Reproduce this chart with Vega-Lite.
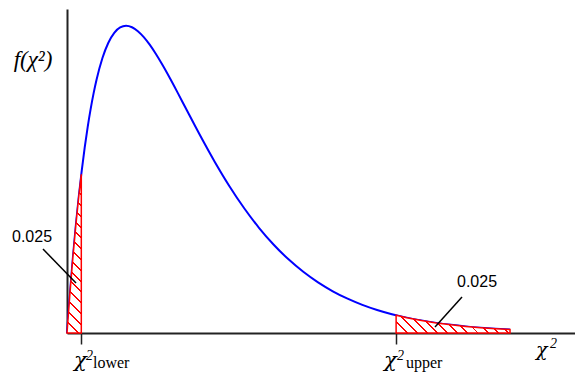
{
  "$schema": "https://vega.github.io/schema/vega-lite/v6.json",
  "width": 508,
  "height": 324,
  "autosize": "none",
  "padding": {"left": 67, "top": 9, "right": 0, "bottom": 50},
  "background": "white",
  "config": {"view": {"stroke": null}},
  "datasets": {
    "curve": [
      {"x": 0, "y": 0},
      {"x": 0.1, "y": 0.023781},
      {"x": 0.2, "y": 0.045242},
      {"x": 0.3, "y": 0.064553},
      {"x": 0.4, "y": 0.081873},
      {"x": 0.4844, "y": 0.095051},
      {"x": 0.5, "y": 0.09735},
      {"x": 0.6, "y": 0.111123},
      {"x": 0.7, "y": 0.12332},
      {"x": 0.8, "y": 0.134064},
      {"x": 0.9, "y": 0.143466},
      {"x": 1.0, "y": 0.151633},
      {"x": 1.2, "y": 0.164644},
      {"x": 1.4, "y": 0.173805},
      {"x": 1.6, "y": 0.179732},
      {"x": 1.8, "y": 0.182956},
      {"x": 2.0, "y": 0.18394},
      {"x": 2.2, "y": 0.183079},
      {"x": 2.4, "y": 0.180717},
      {"x": 2.6, "y": 0.177146},
      {"x": 2.8, "y": 0.172618},
      {"x": 3.0, "y": 0.167348},
      {"x": 3.25, "y": 0.159991},
      {"x": 3.5, "y": 0.152052},
      {"x": 3.75, "y": 0.14377},
      {"x": 4.0, "y": 0.135335},
      {"x": 4.5, "y": 0.118574},
      {"x": 5.0, "y": 0.102606},
      {"x": 5.5, "y": 0.087901},
      {"x": 6.0, "y": 0.074681},
      {"x": 6.5, "y": 0.063008},
      {"x": 7.0, "y": 0.052845},
      {"x": 7.5, "y": 0.044096},
      {"x": 8.0, "y": 0.036631},
      {"x": 8.5, "y": 0.030312},
      {"x": 9.0, "y": 0.024995},
      {"x": 9.5, "y": 0.020548},
      {"x": 10.0, "y": 0.016845},
      {"x": 10.5, "y": 0.013775},
      {"x": 11.0, "y": 0.011239},
      {"x": 11.1433, "y": 0.010598},
      {"x": 11.5, "y": 0.009151},
      {"x": 12.0, "y": 0.0074363},
      {"x": 12.5, "y": 0.0060329},
      {"x": 13.0, "y": 0.0048862},
      {"x": 13.5, "y": 0.0039517},
      {"x": 14.0, "y": 0.0031916},
      {"x": 14.5, "y": 0.0025744},
      {"x": 15.0, "y": 0.0020741}
    ],
    "leaders": [
      {"x": -0.813, "y": 0.0503, "x2": 0.305, "y2": 0.0299},
      {"x": 13.374, "y": 0.02156, "x2": 12.46, "y2": 0.00359}
    ],
    "numbers": [
      {"x": -1.185, "y": 0.05449, "t": "0.025"},
      {"x": 13.882, "y": 0.02754, "t": "0.025"}
    ],
    "flabel": [
      {"x": -1.151, "y": 0.1593, "t": "f(χ²)"}
    ],
    "chiTick": [
      {"x": 0.237, "y": -0.02036, "t": "χ"},
      {"x": 10.733, "y": -0.02036, "t": "χ"}
    ],
    "chiAxis": [
      {"x": 15.879, "y": -0.01377, "t": "χ"}
    ],
    "sups": [
      {"x": 0.643, "y": -0.01617, "t": "2"},
      {"x": 11.173, "y": -0.01617, "t": "2"},
      {"x": 16.35, "y": -0.00898, "t": "2"}
    ],
    "subs": [
      {"x": 0.88, "y": -0.02096, "t": "lower"},
      {"x": 11.478, "y": -0.02096, "t": "upper"}
    ]
  },
  "encoding": {
    "x": {
      "field": "x", "type": "quantitative",
      "scale": {"domain": [0, 17.2], "nice": false, "zero": false},
      "axis": {"values": [0.4844, 11.1433], "labels": false, "ticks": true, "tickSize": 11, "tickColor": "#222222", "tickWidth": 1.5, "domainColor": "#222222", "domainWidth": 2, "grid": false, "title": null}
    },
    "y": {
      "field": "y", "type": "quantitative",
      "scale": {"domain": [0, 0.194], "nice": false, "zero": false},
      "axis": {"ticks": false, "labels": false, "grid": false, "title": null, "domainColor": "#222222", "domainWidth": 2}
    }
  },
  "layer": [
    {
      "data": {"name": "curve"},
      "mark": {"type": "line", "color": "#0000ff", "strokeWidth": 2, "interpolate": "monotone"}
    },
    {
      "data": {"name": "curve"},
      "transform": [{"filter": "datum.x <= 0.4845"}],
      "mark": {
        "type": "area", "stroke": "#ff0000", "strokeWidth": 1.5,
        "fill": {
          "gradient": "linear", "x1": 0, "y1": 1, "x2": 0.0974, "y2": -0.081,
          "stops": [
            {"offset": 0, "color": "#ff0000"}, {"offset": 0.01125, "color": "#ff0000"}, {"offset": 0.01125, "color": "#ffffff"}, {"offset": 0.0625, "color": "#ffffff"},
            {"offset": 0.0625, "color": "#ff0000"}, {"offset": 0.07375, "color": "#ff0000"}, {"offset": 0.07375, "color": "#ffffff"}, {"offset": 0.125, "color": "#ffffff"},
            {"offset": 0.125, "color": "#ff0000"}, {"offset": 0.13625, "color": "#ff0000"}, {"offset": 0.13625, "color": "#ffffff"}, {"offset": 0.1875, "color": "#ffffff"},
            {"offset": 0.1875, "color": "#ff0000"}, {"offset": 0.19875, "color": "#ff0000"}, {"offset": 0.19875, "color": "#ffffff"}, {"offset": 0.25, "color": "#ffffff"},
            {"offset": 0.25, "color": "#ff0000"}, {"offset": 0.26125, "color": "#ff0000"}, {"offset": 0.26125, "color": "#ffffff"}, {"offset": 0.3125, "color": "#ffffff"},
            {"offset": 0.3125, "color": "#ff0000"}, {"offset": 0.32375, "color": "#ff0000"}, {"offset": 0.32375, "color": "#ffffff"}, {"offset": 0.375, "color": "#ffffff"},
            {"offset": 0.375, "color": "#ff0000"}, {"offset": 0.38625, "color": "#ff0000"}, {"offset": 0.38625, "color": "#ffffff"}, {"offset": 0.4375, "color": "#ffffff"},
            {"offset": 0.4375, "color": "#ff0000"}, {"offset": 0.44875, "color": "#ff0000"}, {"offset": 0.44875, "color": "#ffffff"}, {"offset": 0.5, "color": "#ffffff"},
            {"offset": 0.5, "color": "#ff0000"}, {"offset": 0.51125, "color": "#ff0000"}, {"offset": 0.51125, "color": "#ffffff"}, {"offset": 0.5625, "color": "#ffffff"},
            {"offset": 0.5625, "color": "#ff0000"}, {"offset": 0.57375, "color": "#ff0000"}, {"offset": 0.57375, "color": "#ffffff"}, {"offset": 0.625, "color": "#ffffff"},
            {"offset": 0.625, "color": "#ff0000"}, {"offset": 0.63625, "color": "#ff0000"}, {"offset": 0.63625, "color": "#ffffff"}, {"offset": 0.6875, "color": "#ffffff"},
            {"offset": 0.6875, "color": "#ff0000"}, {"offset": 0.69875, "color": "#ff0000"}, {"offset": 0.69875, "color": "#ffffff"}, {"offset": 0.75, "color": "#ffffff"},
            {"offset": 0.75, "color": "#ff0000"}, {"offset": 0.76125, "color": "#ff0000"}, {"offset": 0.76125, "color": "#ffffff"}, {"offset": 0.8125, "color": "#ffffff"},
            {"offset": 0.8125, "color": "#ff0000"}, {"offset": 0.82375, "color": "#ff0000"}, {"offset": 0.82375, "color": "#ffffff"}, {"offset": 0.875, "color": "#ffffff"},
            {"offset": 0.875, "color": "#ff0000"}, {"offset": 0.88625, "color": "#ff0000"}, {"offset": 0.88625, "color": "#ffffff"}, {"offset": 0.9375, "color": "#ffffff"},
            {"offset": 0.9375, "color": "#ff0000"}, {"offset": 0.94875, "color": "#ff0000"}, {"offset": 0.94875, "color": "#ffffff"}, {"offset": 1, "color": "#ffffff"}
          ]
        }
      }
    },
    {
      "data": {"name": "curve"},
      "transform": [{"filter": "datum.x >= 11.143"}],
      "mark": {
        "type": "area", "stroke": "#ff0000", "strokeWidth": 1.5,
        "fill": {
          "gradient": "linear", "x1": 0, "y1": 1, "x2": 1.128, "y2": 0.825,
          "stops": [
            {"offset": 0, "color": "#ff0000"}, {"offset": 0.013846, "color": "#ff0000"}, {"offset": 0.013846, "color": "#ffffff"}, {"offset": 0.076923, "color": "#ffffff"},
            {"offset": 0.076923, "color": "#ff0000"}, {"offset": 0.090769, "color": "#ff0000"}, {"offset": 0.090769, "color": "#ffffff"}, {"offset": 0.153846, "color": "#ffffff"},
            {"offset": 0.153846, "color": "#ff0000"}, {"offset": 0.167692, "color": "#ff0000"}, {"offset": 0.167692, "color": "#ffffff"}, {"offset": 0.230769, "color": "#ffffff"},
            {"offset": 0.230769, "color": "#ff0000"}, {"offset": 0.244615, "color": "#ff0000"}, {"offset": 0.244615, "color": "#ffffff"}, {"offset": 0.307692, "color": "#ffffff"},
            {"offset": 0.307692, "color": "#ff0000"}, {"offset": 0.321538, "color": "#ff0000"}, {"offset": 0.321538, "color": "#ffffff"}, {"offset": 0.384615, "color": "#ffffff"},
            {"offset": 0.384615, "color": "#ff0000"}, {"offset": 0.398461, "color": "#ff0000"}, {"offset": 0.398461, "color": "#ffffff"}, {"offset": 0.461538, "color": "#ffffff"},
            {"offset": 0.461538, "color": "#ff0000"}, {"offset": 0.475384, "color": "#ff0000"}, {"offset": 0.475384, "color": "#ffffff"}, {"offset": 0.538462, "color": "#ffffff"},
            {"offset": 0.538462, "color": "#ff0000"}, {"offset": 0.552308, "color": "#ff0000"}, {"offset": 0.552308, "color": "#ffffff"}, {"offset": 0.615385, "color": "#ffffff"},
            {"offset": 0.615385, "color": "#ff0000"}, {"offset": 0.629231, "color": "#ff0000"}, {"offset": 0.629231, "color": "#ffffff"}, {"offset": 0.692308, "color": "#ffffff"},
            {"offset": 0.692308, "color": "#ff0000"}, {"offset": 0.706154, "color": "#ff0000"}, {"offset": 0.706154, "color": "#ffffff"}, {"offset": 0.769231, "color": "#ffffff"},
            {"offset": 0.769231, "color": "#ff0000"}, {"offset": 0.783077, "color": "#ff0000"}, {"offset": 0.783077, "color": "#ffffff"}, {"offset": 0.846154, "color": "#ffffff"},
            {"offset": 0.846154, "color": "#ff0000"}, {"offset": 0.86, "color": "#ff0000"}, {"offset": 0.86, "color": "#ffffff"}, {"offset": 0.923077, "color": "#ffffff"},
            {"offset": 0.923077, "color": "#ff0000"}, {"offset": 0.936923, "color": "#ff0000"}, {"offset": 0.936923, "color": "#ffffff"}, {"offset": 1, "color": "#ffffff"}
          ]
        }
      }
    },
    {
      "data": {"name": "leaders"},
      "mark": {"type": "rule", "color": "#000000", "strokeWidth": 1.5},
      "encoding": {"x2": {"field": "x2"}, "y2": {"field": "y2"}}
    },
    {
      "data": {"name": "numbers"},
      "mark": {"type": "text", "font": "Liberation Sans", "fontSize": 16, "align": "center", "baseline": "alphabetic", "color": "#000000"},
      "encoding": {"text": {"field": "t"}}
    },
    {
      "data": {"name": "flabel"},
      "mark": {"type": "text", "font": "Liberation Serif", "fontSize": 23, "fontStyle": "italic", "align": "center", "baseline": "alphabetic", "color": "#000000"},
      "encoding": {"text": {"field": "t"}}
    },
    {
      "data": {"name": "chiTick"},
      "mark": {"type": "text", "font": "DejaVu Serif", "fontSize": 21, "fontStyle": "italic", "align": "left", "baseline": "alphabetic", "color": "#000000"},
      "encoding": {"text": {"field": "t"}}
    },
    {
      "data": {"name": "chiAxis"},
      "mark": {"type": "text", "font": "DejaVu Serif", "fontSize": 19, "fontStyle": "italic", "align": "left", "baseline": "alphabetic", "color": "#000000"},
      "encoding": {"text": {"field": "t"}}
    },
    {
      "data": {"name": "sups"},
      "mark": {"type": "text", "font": "Liberation Serif", "fontSize": 14, "fontStyle": "italic", "align": "left", "baseline": "alphabetic", "color": "#000000"},
      "encoding": {"text": {"field": "t"}}
    },
    {
      "data": {"name": "subs"},
      "mark": {"type": "text", "font": "Liberation Serif", "fontSize": 16, "align": "left", "baseline": "alphabetic", "color": "#000000"},
      "encoding": {"text": {"field": "t"}}
    }
  ]
}
